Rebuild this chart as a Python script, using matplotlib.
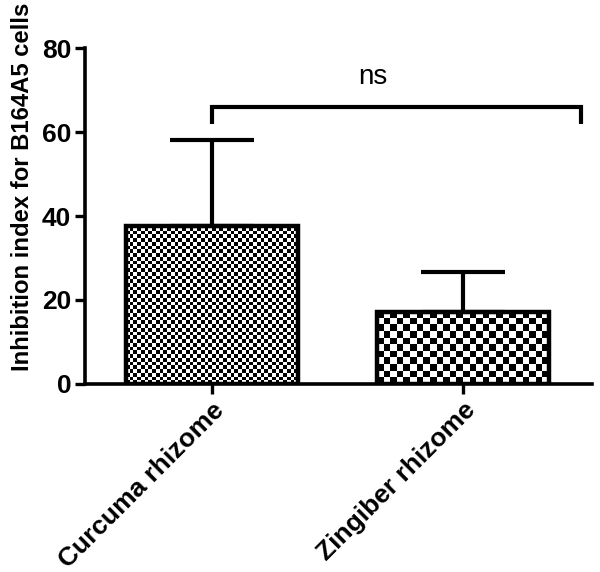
import numpy as np
import matplotlib
matplotlib.use("Agg")
import matplotlib.pyplot as plt
from matplotlib.transforms import ScaledTranslation

plt.rcParams['font.family'] = ['Liberation Sans', 'DejaVu Sans']

categories = ["Curcuma rhizome", "Zingiber rhizome"]
means = [37.6, 17.1]
errors = [20.5, 9.6]
cell_counts = [46, 26]  # checkerboard cells across each bar
ylabel = "Inhibition index for B164A5 cells"
yticks = [0, 20, 40, 60, 80]

fig = plt.figure(figsize=(6, 5.72), dpi=100)
ax = fig.add_axes([0.1417, 0.3287, 0.845, 0.5873])

x = np.arange(len(categories))
width = 0.685

bars = ax.bar(x, means, width, facecolor='none', edgecolor='black', linewidth=3.2, zorder=3)

# checkerboard fill clipped to each bar
px_per_unit = 4.2
for bar, n in zip(bars, cell_counts):
    bx, by = bar.get_x(), bar.get_y()
    bw, bh = bar.get_width(), bar.get_height()
    cell_px = 172.0 / n
    ny = int(np.ceil(bh * px_per_unit / cell_px)) + 1
    yy, xx = np.indices((ny, n))
    board = (xx + yy) % 2
    im = ax.imshow(board, cmap='gray', interpolation='nearest', aspect='auto',
                   extent=[bx, bx + bw, by, by + ny * cell_px / px_per_unit],
                   origin='lower', zorder=2, vmin=0, vmax=1)
    im.set_clip_path(bar)

# upper error bars only
ax.errorbar(x, means, yerr=[np.zeros(len(means)), errors], fmt='none',
            ecolor='black', elinewidth=3, capsize=30, capthick=3, zorder=4)

# significance bracket
ax.plot([0, 0, 1.47, 1.47], [62, 66, 66, 62], color='black', lw=3, clip_on=False,
        solid_capstyle='butt', solid_joinstyle='miter')
ax.text(0.64, 71.5, "ns", ha='center', va='baseline', fontsize=20)

ax.set_xlim(-0.506, 1.514)
ax.set_ylim(0, 80)
ax.set_yticks(yticks)
ax.set_xticks(x)
ax.set_xticklabels(categories, rotation=45, ha='right', rotation_mode='anchor',
                   fontsize=19, fontweight='bold')
shift = ScaledTranslation(-0.07, -0.02, fig.dpi_scale_trans)
for lab in ax.get_xticklabels():
    lab.set_transform(lab.get_transform() + shift)
for lab in ax.get_yticklabels():
    lab.set_fontsize(19)
    lab.set_fontweight('bold')
ax.set_ylabel(ylabel, fontsize=17.2, fontweight='bold')
ax.yaxis.set_label_coords(-0.100, 0.586)

for s in ['top', 'right']:
    ax.spines[s].set_visible(False)
for s in ['left', 'bottom']:
    ax.spines[s].set_linewidth(2.6)
ax.tick_params(axis='both', direction='out', length=7, width=2.4, pad=3)

fig.savefig('out.png', dpi=100)
